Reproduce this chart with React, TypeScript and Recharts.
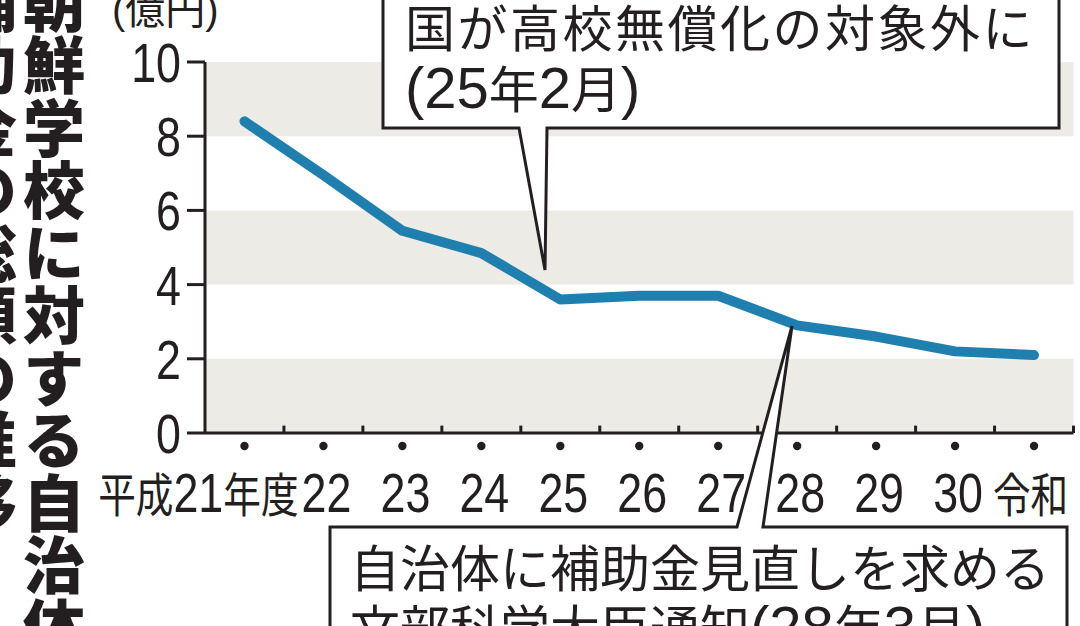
import React from 'react';
import { LineChart, Line, XAxis, YAxis, ReferenceArea, ReferenceLine } from 'recharts';

const INK = '#231f20';
const LINE = '#1f7fae';
const BAND = '#ecebe5';
const LATIN = "'Liberation Sans', Arial, sans-serif";
const CJK = "'Noto Sans CJK JP', sans-serif";

// 年度
const categories = ['平成21年度', '22', '23', '24', '25', '26', '27', '28', '29', '30', '令和'];
// 補助金の総額（億円）
const amounts = [8.4, 6.95, 5.45, 4.85, 3.6, 3.7, 3.7, 2.9, 2.6, 2.2, 2.1];
const yTicks = [0, 2, 4, 6, 8, 10];
const bands: [number, number][] = [[0, 2], [4, 6], [8, 10]];

const data = categories.map((name, i) => ({ idx: i, name, value: amounts[i] }));

// 数字・括弧は欧文フォント、それ以外は和文フォントで描く
function runs(text: string, cjk: number, latin: number) {
  const parts = text.match(/[0-9()]+|[^0-9()]+/g) || [];
  return parts.map((p, i) =>
    /[0-9()]/.test(p) ? (
      <tspan key={i} fontFamily={LATIN} fontSize={latin}>{p}</tspan>
    ) : (
      <tspan key={i} fontFamily={CJK} fontSize={cjk}>{p}</tspan>
    )
  );
}

function XTick(props: any) {
  const { x, y, payload } = props;
  const i = payload.value;
  const label = categories[i];
  if (label === undefined) return <g />;
  let anchor = 'middle';
  let dx = 3;
  if (i === 0) {
    anchor = 'end';
    dx = 54;
  } else if (i === categories.length - 1) {
    anchor = 'start';
    dx = -41;
  }
  return (
    <g>
      <circle cx={x} cy={y + 13} r={4.2} fill={INK} />
      <g transform={`translate(${x + dx},${y + 79}) scale(0.8,1)`}>
        <text textAnchor={anchor} fill={INK}>{runs(label, 47, 56)}</text>
      </g>
    </g>
  );
}

function YTick(props: any) {
  const { x, y, payload } = props;
  return (
    <g transform={`translate(${x},${y + 20}) scale(0.8,1)`}>
      <text textAnchor="end" fill={INK} fontFamily={LATIN} fontSize={56}>
        {payload.value}
      </text>
    </g>
  );
}

function Callouts() {
  const box1 = 'M383,-10 L383,128 L519,128 L545,270 L547,128 L1059,128 L1059,-10';
  const box2 = 'M330,640 L330,527 L737,527 L792,326 L763,527 L1067,527 L1067,640';
  return (
    <svg
      width={1080}
      height={626}
      style={{ position: 'absolute', left: 0, top: 0, pointerEvents: 'none' }}
    >
      <path d={box1} fill="#fff" stroke={INK} strokeWidth={3} strokeLinejoin="miter" />
      <path d={box2} fill="#fff" stroke={INK} strokeWidth={3} strokeLinejoin="miter" />
      <text x={405} y={47} fill={INK} letterSpacing={2.5}>
        {runs('国が高校無償化の対象外に', 50, 58)}
      </text>
      <text x={405} y={108} fill={INK}>
        {runs('(25年2月)', 50, 58)}
      </text>
      <text x={350} y={587} fill={INK}>
        {runs('自治体に補助金見直しを求める', 50, 58)}
      </text>
      <text x={350} y={647} fill={INK}>
        {runs('文部科学大臣通知(28年3月)', 50, 58)}
      </text>
      <text x={112} y={24} fill={INK}>
        {runs('(億円)', 40, 40)}
      </text>
    </svg>
  );
}

export default function App() {
  return (
    <div
      style={{
        position: 'absolute',
        left: 0,
        top: 0,
        width: 1080,
        height: 626,
        overflow: 'hidden',
        background: '#fff',
      }}
    >
      <LineChart
        width={1080}
        height={626}
        data={data}
        margin={{ top: 62, right: 6.5, bottom: 133, left: 0 }}
      >
        {bands.map(([a, b]) => (
          <ReferenceArea key={a} y1={a} y2={b} fill={BAND} fillOpacity={1} stroke="none" />
        ))}
        <XAxis
          dataKey="idx"
          type="number"
          domain={[-0.5, categories.length - 0.5]}
          ticks={categories.map((_, i) => i)}
          interval={0}
          height={60}
          tickSize={0}
          tickMargin={0}
          tickLine={false}
          axisLine={{ stroke: INK, strokeWidth: 3 }}
          tick={(p: any) => <XTick {...p} />}
        />
        <YAxis
          domain={[0, 10]}
          ticks={yTicks}
          interval={0}
          width={205}
          tickSize={18}
          tickMargin={6}
          tickLine={{ stroke: INK, strokeWidth: 3 }}
          axisLine={{ stroke: INK, strokeWidth: 3 }}
          tick={(p: any) => <YTick {...p} />}
        />
        {categories.map((_, i) => (
          <ReferenceLine
            key={`b${i}`}
            segment={[
              { x: i + 0.5, y: 0 },
              { x: i + 0.5, y: 0.2 },
            ]}
            stroke={INK}
            strokeWidth={3}
          />
        ))}
        <Line
          type="linear"
          dataKey="value"
          stroke={LINE}
          strokeWidth={10}
          strokeLinecap="round"
          strokeLinejoin="round"
          dot={false}
          activeDot={false}
          isAnimationActive={false}
        />
      </LineChart>
      <Callouts />
      <div
        style={{
          position: 'absolute',
          left: -48,
          top: -28,
          width: 136,
          height: 720,
          writingMode: 'vertical-rl',
          whiteSpace: 'pre',
          fontFamily: CJK,
          fontWeight: 900,
          fontSize: 62,
          lineHeight: '68px',
          letterSpacing: '0.5px',
          color: INK,
        }}
      >
        {'朝鮮学校に対する自治体\n補助金の総額の推移'}
      </div>
    </div>
  );
}
